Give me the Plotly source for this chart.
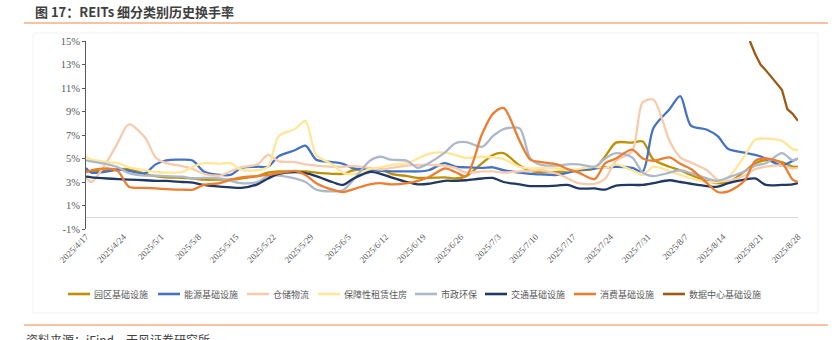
import plotly.graph_objects as go

DATES = ["2025-04-17", "2025-04-18", "2025-04-21", "2025-04-23", "2025-04-25", "2025-04-28", "2025-04-30",
         "2025-05-02", "2025-05-05", "2025-05-07", "2025-05-09", "2025-05-12", "2025-05-14", "2025-05-16",
         "2025-05-19", "2025-05-21", "2025-05-23", "2025-05-26", "2025-05-28", "2025-05-30", "2025-06-02",
         "2025-06-04", "2025-06-06", "2025-06-09", "2025-06-11", "2025-06-13", "2025-06-16", "2025-06-18",
         "2025-06-20", "2025-06-23", "2025-06-25", "2025-06-27", "2025-06-30", "2025-07-02", "2025-07-04",
         "2025-07-07", "2025-07-09", "2025-07-11", "2025-07-14", "2025-07-16", "2025-07-18", "2025-07-21",
         "2025-07-23", "2025-07-25", "2025-07-28", "2025-07-30", "2025-08-01", "2025-08-04", "2025-08-06",
         "2025-08-08", "2025-08-11", "2025-08-13", "2025-08-15", "2025-08-18", "2025-08-20", "2025-08-22",
         "2025-08-25", "2025-08-27", "2025-08-28"]

park = [3.9, 3.9, 4.0, 4.1, 4.1, 3.7, 3.5, 3.4, 3.35, 3.3, 3.2, 3.2, 3.2, 3.3, 3.5, 3.8, 3.9, 3.9, 3.9, 3.8,
        3.7, 3.7, 4.0, 4.1, 4.1, 3.7, 3.5, 3.35, 3.35, 3.4, 3.3, 3.5, 4.6, 5.3, 5.45, 4.4, 3.95, 3.85, 3.85, 3.9,
        4.0, 4.15, 5.2, 6.35, 6.35, 6.45, 4.9, 4.3, 4.0, 3.6, 3.1, 2.9, 2.95, 3.9, 4.6, 4.85, 4.7, 4.3, 4.3]
energy = [4.2, 3.8, 3.9, 4.05, 3.95, 3.75, 4.5, 4.85, 4.9, 4.8, 3.9, 3.6, 3.6, 4.2, 4.3, 4.3, 5.2, 5.7, 6.1, 4.9,
          4.7, 4.55, 4.15, 4.05, 3.95, 3.9, 3.9, 3.9, 4.0, 4.6, 4.3, 4.25, 4.2, 4.25, 4.0, 3.8, 3.7, 3.65, 3.6, 3.8,
          4.0, 4.15, 4.25, 4.3, 4.2, 3.9, 7.6, 9.2, 10.3, 7.8, 7.45, 6.9, 5.8, 5.5, 5.3, 5.0, 4.4, 4.8, 5.0]
storage = [3.4, 3.0, 4.8, 6.4, 7.9, 6.8, 5.1, 4.6, 4.35, 4.1, 3.7, 3.55, 3.9, 4.25, 4.5, 5.3, 4.75, 4.7, 4.5, 4.4,
           4.3, 4.3, 4.35, 4.2, 4.05, 4.2, 4.4, 4.45, 4.45, 4.4, 4.2, 3.8, 3.9, 3.9, 3.8, 3.9, 3.95, 4.0, 3.7, 3.3,
           2.9, 2.85, 3.3, 4.8, 5.6, 9.8, 10.0, 6.5, 5.1, 4.65, 4.0, 3.2, 3.1, 3.55, 4.1, 4.3, 4.4, 4.15, 4.2]
housing = [5.15, 4.9, 4.7, 4.6, 4.25, 4.0, 3.85, 3.8, 3.85, 4.3, 4.6, 4.55, 4.6, 4.05, 4.0, 4.3, 6.9, 7.5, 8.2, 5.3,
           4.5, 3.8, 3.65, 4.1, 4.25, 4.45, 4.6, 5.0, 5.4, 5.5, 5.3, 5.05, 5.15, 5.1, 4.95, 4.3, 4.15, 4.2, 4.15, 4.0,
           4.1, 4.3, 4.2, 4.5, 4.0, 3.6, 4.3, 3.9, 3.6, 3.3, 3.0, 3.0, 3.4, 5.2, 6.6, 6.7, 6.5, 5.8, 5.7]
municipal = [4.85, 4.75, 4.5, 4.25, 3.75, 3.55, 3.55, 3.5, 3.45, 3.3, 3.35, 3.3, 3.1, 2.9, 3.0, 3.5, 3.55, 3.3, 3.0,
             2.35, 2.2, 2.3, 3.2, 4.8, 5.15, 4.9, 4.8, 4.2, 4.6, 5.5, 6.3, 6.4, 6.0, 6.9, 7.5, 7.55, 5.0, 4.45, 4.4,
             4.5, 4.5, 4.3, 5.0, 5.45, 5.1, 3.8, 3.5, 3.8, 4.0, 3.75, 3.3, 3.1, 3.4, 3.9, 4.4, 4.6, 5.45, 4.85, 5.0]
transport = [3.45, 3.4, 3.3, 3.25, 3.2, 3.15, 3.1, 3.1, 3.0, 2.95, 2.75, 2.6, 2.55, 2.5, 2.8, 3.3, 3.7, 3.85, 3.75,
             3.5, 3.0, 2.75, 3.3, 3.85, 3.7, 3.4, 3.0, 2.8, 2.85, 3.1, 3.1, 3.15, 3.3, 3.35, 3.0, 2.8, 2.65, 2.65,
             2.7, 2.75, 2.45, 2.45, 2.35, 2.7, 2.75, 2.75, 2.9, 3.15, 3.0, 2.85, 2.65, 2.6, 2.9, 3.2, 3.3, 2.75,
             2.75, 2.8, 2.9]
consumer = [3.8, 4.0, 4.15, 3.9, 2.6, 2.5, 2.45, 2.4, 2.35, 2.35, 2.75, 2.9, 3.2, 3.4, 3.5, 3.6, 3.75, 3.95, 3.6,
            2.9, 2.35, 2.15, 2.4, 2.8, 2.9, 2.8, 2.9, 3.1, 3.4, 4.15, 3.85, 3.5, 7.1, 8.8, 9.3, 6.5, 4.9, 4.7, 4.5,
            4.1, 3.8, 3.25, 4.6, 5.0, 5.75, 5.0, 4.8, 5.1, 4.55, 4.1, 2.9, 2.15, 2.2, 3.1, 4.8, 5.0, 4.6, 3.2, 3.0]

DC_DATES = ["2025-08-19", "2025-08-20", "2025-08-21", "2025-08-22", "2025-08-25", "2025-08-26", "2025-08-27",
            "2025-08-28"]
datacenter = [15.0, 13.9, 13.0, 12.5, 10.85, 9.2, 8.8, 8.2]

SERIES = [
    ("园区基础设施", DATES, park, "#BF9000", "spline"),
    ("能源基础设施", DATES, energy, "#4472C4", "spline"),
    ("仓储物流", DATES, storage, "#F8CBAD", "spline"),
    ("保障性租赁住房", DATES, housing, "#FFE699", "spline"),
    ("市政环保", DATES, municipal, "#ADB9CA", "spline"),
    ("交通基础设施", DATES, transport, "#203864", "spline"),
    ("消费基础设施", DATES, consumer, "#ED7D31", "spline"),
    ("数据中心基础设施", DC_DATES, datacenter, "#9C5B13", "linear"),
]

TICK_DATES = ["2025-04-17", "2025-04-24", "2025-05-01", "2025-05-08", "2025-05-15", "2025-05-22", "2025-05-29",
              "2025-06-05", "2025-06-12", "2025-06-19", "2025-06-26", "2025-07-03", "2025-07-10", "2025-07-17",
              "2025-07-24", "2025-07-31", "2025-08-07", "2025-08-14", "2025-08-21", "2025-08-28"]
TICK_TEXT = ["2025/4/17", "2025/4/24", "2025/5/1", "2025/5/8", "2025/5/15", "2025/5/22", "2025/5/29",
             "2025/6/5", "2025/6/12", "2025/6/19", "2025/6/26", "2025/7/3", "2025/7/10", "2025/7/17",
             "2025/7/24", "2025/7/31", "2025/8/7", "2025/8/14", "2025/8/21", "2025/8/28"]
Y_TICKS = [-1, 1, 3, 5, 7, 9, 11, 13, 15]

W, H = 836, 340
L, R, T, B = 86, 38, 41, 111
PW, PH = W - L - R, H - T - B


def px(x):
    return (x - L) / PW


def py(y):
    return (H - B - y) / PH


fig = go.Figure()
for name, xs, vals, color, shape in SERIES:
    line = dict(color=color, width=2.3, shape=shape)
    if shape == "spline":
        line["smoothing"] = 0.8
    fig.add_trace(go.Scatter(x=xs, y=vals, name=name, mode="lines", line=line, showlegend=False))

# legend drawn as a row below the plot (line sample + label), positions in pixels
LEGEND_X = [68, 158, 247, 318, 415, 485, 574, 663]
LEGEND_Y = 294
shapes = [
    dict(type="line", xref="paper", yref="paper", x0=px(24), x1=px(828), y0=py(23), y1=py(23),
         line=dict(color="#F4B183", width=1.5)),
    dict(type="line", xref="paper", yref="paper", x0=px(24), x1=px(828), y0=py(325), y1=py(325),
         line=dict(color="#F4B183", width=1.5)),
    dict(type="rect", xref="paper", yref="paper", x0=px(33), x1=px(818), y0=py(313), y1=py(33),
         line=dict(color="#F2F2F2", width=1)),
]
annotations = [
    dict(text="<b>图 17：REITs 细分类别历史换手率</b>", xref="paper", yref="paper", x=px(33), y=py(11),
         xanchor="left", yanchor="middle", showarrow=False,
         font=dict(family="Noto Sans CJK SC", size=13, color="#404040")),
    dict(text="资料来源：iFind，天风证券研究所", xref="paper", yref="paper", x=px(24), y=py(329),
         xanchor="left", yanchor="top", showarrow=False,
         font=dict(family="Noto Sans CJK SC", size=12, color="#404040")),
]
for (name, _, _, color, _), lx in zip(SERIES, LEGEND_X):
    shapes.append(dict(type="line", xref="paper", yref="paper", x0=px(lx), x1=px(lx + 22),
                       y0=py(LEGEND_Y), y1=py(LEGEND_Y), line=dict(color=color, width=2.6)))
    annotations.append(dict(text=name, xref="paper", yref="paper", x=px(lx + 24), y=py(LEGEND_Y),
                            xanchor="left", yanchor="middle", showarrow=False,
                            font=dict(family="Noto Sans CJK SC", size=9, color="#595959")))

fig.update_layout(
    width=W, height=H,
    margin=dict(l=L, r=R, t=T, b=B, autoexpand=False),
    paper_bgcolor="white", plot_bgcolor="white",
    showlegend=False,
    xaxis=dict(type="date", range=["2025-04-17", "2025-08-28"], tickvals=TICK_DATES, ticktext=TICK_TEXT,
               tickangle=-45, showgrid=False, zeroline=False, showline=False, ticks="",
               tickfont=dict(family="Liberation Serif", size=9, color="#595959"), automargin=False),
    yaxis=dict(range=[-1, 15], tickvals=Y_TICKS, ticktext=[f"{v}%" for v in Y_TICKS],
               showgrid=False, zeroline=True, zerolinecolor="#D9D9D9", zerolinewidth=1,
               showline=True, linecolor="#595959", linewidth=1, ticks="outside", ticklen=3,
               tickcolor="#595959", tickfont=dict(family="Liberation Serif", size=10.5, color="#595959"),
               automargin=False),
    shapes=shapes,
    annotations=annotations,
)

fig.write_html("out.html")
